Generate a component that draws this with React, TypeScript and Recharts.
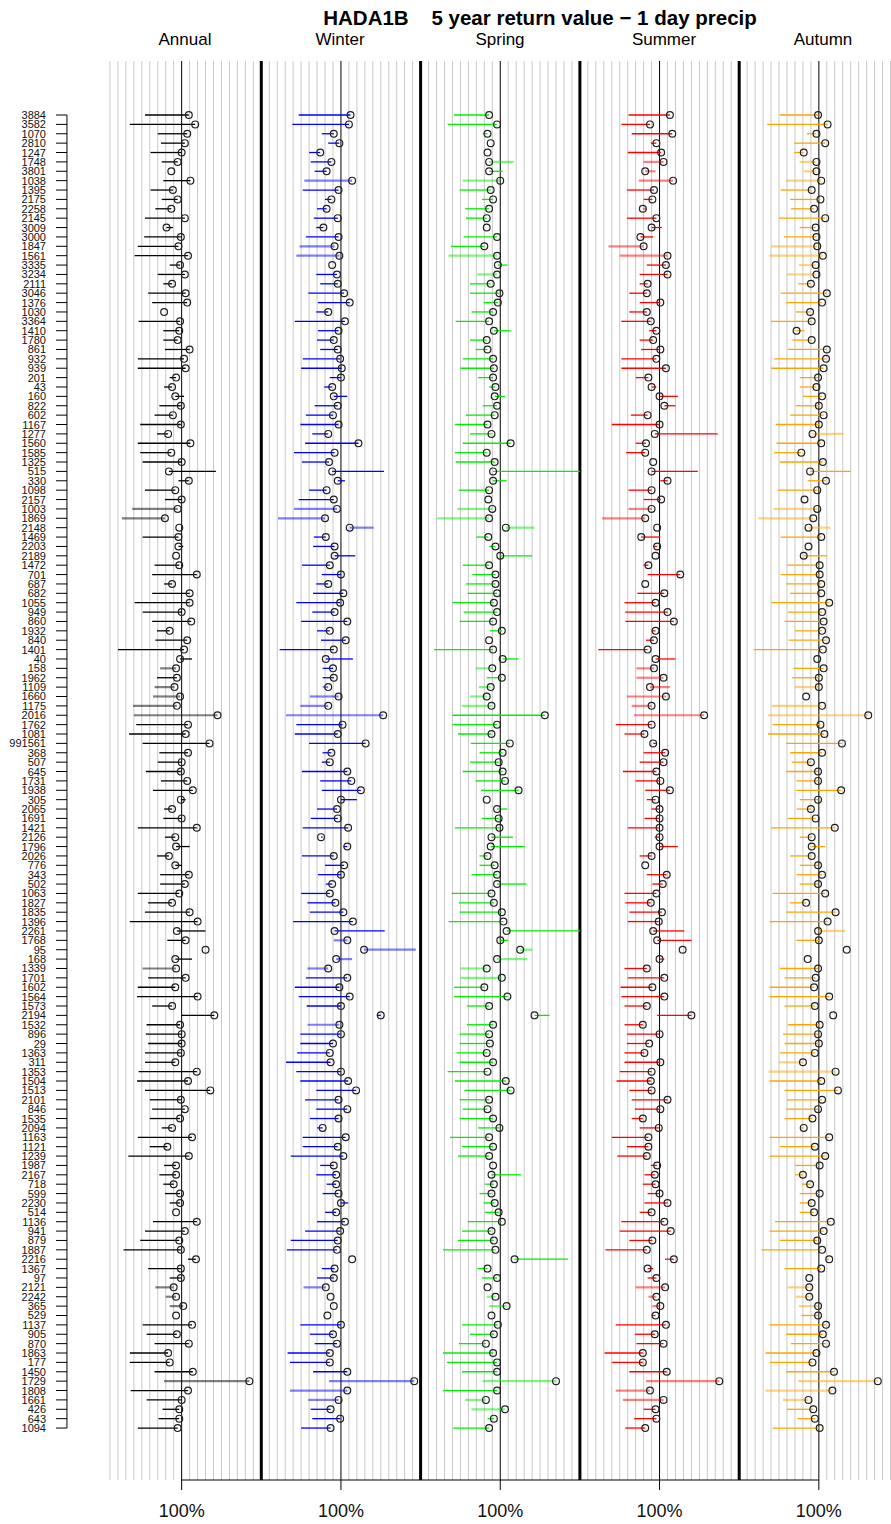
import React from 'react';
import { ComposedChart, Scatter, ErrorBar, XAxis, YAxis, ReferenceLine, Customized } from 'recharts';

const TITLE = 'HADA1B    5 year return value \u2212 1 day precip';
const PANEL_NAMES = ['Annual', 'Winter', 'Spring', 'Summer', 'Autumn'];
const X_TICK_LABEL = '100%';

const stations = [
  '3884','3582','1070','2810','1247','1748','3801','1038','1395','2175',
  '2258','2145','3009','3000','1847','1561','3335','3234','2111','3046',
  '1376','1030','3364','1410','1780','861','932','939','201','43',
  '160','822','602','1167','1277','1560','1585','1325','515','330',
  '1098','2157','1003','1869','2148','1469','2203','2189','1472','701',
  '687','682','1055','949','860','1932','840','1401','40','158',
  '1962','1109','1660','1175','2016','1762','1081','991561','368','507',
  '645','1731','1938','305','2065','1691','1421','2126','1796','2026',
  '776','343','502','1063','1827','1835','1396','2261','1768','95',
  '168','1339','1701','1602','1564','1573','2194','1532','896','29',
  '1363','311','1353','1504','1513','2101','846','1535','2094','1163',
  '1121','1239','1987','2167','718','599','2230','514','1136','941',
  '879','1887','2216','1367','97','2121','2242','365','529','1137',
  '905','870','1863','177','1450','1729','1808','1661','426','643',
  '1094'
];

// values in percent (circle = point, line runs from point to end)
const annualPoint = [
  109,117,107,104,100,95,87,111,89,95, 87,104,81,99,96,108,98,104,88,105,
  107,78,98,97,95,110,103,105,93,88, 92,99,89,99,83,111,87,100,84,109,
  92,100,95,79,97,96,96,93,97,119, 88,110,110,100,112,85,107,103,98,93,
  94,91,98,94,145,108,105,135,108,100, 99,107,114,99,88,100,119,92,93,84,
  92,109,104,97,88,110,120,94,105,130, 92,93,105,92,120,88,141,98,100,100,
  99,92,119,108,136,99,104,98,88,113, 82,109,93,93,90,98,98,93,119,104,
  97,99,118,99,99,90,93,102,93,113, 94,109,83,85,114,185,108,100,97,97,
  95
];
const annualEnd = [
  54,35,70,74,61,75,87,77,61,75, 67,54,89,53,45,41,85,70,77,58,
  63,78,46,77,77,79,45,45,85,78, 103,72,66,48,69,45,48,51,143,96,
  54,79,38,25,97,51,102,93,66,63, 78,63,41,51,63,69,67,20,113,73,
  69,66,64,39,40,43,34,51,72,70, 55,74,64,105,78,77,45,79,110,69,
  100,73,73,45,58,54,35,130,82,130, 113,51,58,45,44,63,100,56,55,58,
  54,54,46,44,54,60,63,60,75,45, 60,33,78,72,77,79,85,93,64,54,
  48,27,108,58,85,67,80,85,93,51, 56,66,35,35,66,78,36,56,76,71,
  45
];
const winterPoint = [
  112,110,91,98,74,88,82,114,97,88, 82,96,78,97,92,98,89,95,96,104,
  111,84,105,97,91,96,99,101,100,89, 91,96,90,97,84,122,92,85,89,96,
  82,91,95,80,111,81,92,92,86,100, 84,103,99,92,108,86,106,91,81,90,
  91,84,97,84,153,102,96,131,88,86, 108,113,125,100,95,96,109,75,108,91,
  104,100,89,86,93,103,115,92,108,129, 94,84,108,98,111,100,150,98,100,90,
  86,87,100,109,119,97,108,97,77,106, 96,103,91,94,94,97,100,94,105,99,
  96,95,114,92,91,81,87,91,83,100, 90,95,86,86,108,192,108,97,87,99,
  87
];
const winterEnd = [
  47,39,76,84,60,62,67,54,52,80, 70,66,69,56,48,44,89,69,74,59,
  71,69,42,71,70,74,52,50,86,79, 108,67,56,49,64,55,41,51,154,105,
  60,47,41,21,141,66,65,118,51,76, 69,65,44,64,50,70,75,23,115,77,
  77,77,61,49,31,44,42,60,77,76, 51,74,76,120,70,62,52,77,103,51,
  80,71,81,50,58,61,40,155,91,194, 114,58,56,42,47,57,145,58,49,49,
  45,31,44,49,69,55,69,61,70,52, 52,37,74,69,82,77,109,80,70,55,
  37,32,114,76,70,53,87,91,83,49, 61,67,33,36,65,85,36,59,62,64,
  50
];
const springPoint = [
  86,96,84,88,84,86,86,100,88,91, 86,83,83,96,80,96,97,96,88,99,
  97,91,86,92,83,84,91,92,91,94, 93,96,93,84,89,113,83,93,91,91,
  86,85,90,86,107,85,94,100,86,94, 94,96,92,96,91,102,86,91,103,90,
  102,88,83,89,156,96,89,112,103,98, 103,106,123,83,96,98,99,89,88,84,
  93,96,96,89,92,102,104,108,100,125, 96,83,102,80,109,86,143,91,86,87,
  83,91,84,107,113,86,84,91,99,86, 91,86,91,89,92,89,93,98,102,89,
  92,94,118,84,96,84,94,108,89,97, 92,82,91,96,96,170,96,82,106,92,
  86
];
const springEnd = [
  42,34,78,88,84,117,103,53,49,77, 56,57,83,54,38,35,109,71,62,62,
  79,64,44,113,62,69,53,50,72,86, 106,78,57,43,62,53,43,44,200,108,
  48,85,46,21,143,70,86,140,53,65, 57,59,40,54,49,87,86,17,123,69,
  83,73,62,52,40,40,47,63,74,62, 53,69,76,83,109,77,43,116,131,74,
  74,64,133,39,48,49,35,200,110,140, 134,50,50,42,42,58,162,58,49,49,
  45,49,34,43,55,49,53,49,72,37, 52,47,91,126,81,74,79,81,59,52,
  47,28,185,71,77,84,83,86,89,52, 62,48,28,33,52,78,28,56,64,84,
  41
];
const summerPoint = [
  113,88,116,96,102,105,82,117,93,91, 79,96,90,76,80,110,108,110,85,84,
  101,84,89,96,92,101,96,108,86,90, 100,106,85,100,94,83,82,92,90,110,
  90,102,90,82,97,77,97,95,86,126, 82,106,95,110,118,95,93,85,95,93,
  105,88,108,90,156,90,81,92,107,105, 96,101,113,95,100,100,100,100,100,90,
  82,109,104,96,89,103,99,92,97,129, 100,84,106,91,106,84,140,79,100,87,
  81,101,90,89,90,110,101,79,99,86, 86,84,97,94,95,100,110,90,106,114,
  91,84,118,85,96,107,96,101,95,108, 94,105,79,79,109,175,88,105,95,96,
  82
];
const summerEnd = [
  61,52,65,89,60,80,95,74,59,80, 84,59,103,92,36,50,84,75,75,62,
  75,62,52,87,75,77,52,52,70,96, 123,120,64,40,173,70,58,92,148,101,
  61,80,61,28,97,101,92,95,80,85, 82,72,56,57,57,90,83,23,120,71,
  71,113,59,65,68,45,56,96,80,75, 54,70,82,84,90,81,60,94,123,75,
  82,84,91,56,57,62,60,131,140,129, 106,56,60,51,52,56,97,56,59,59,
  56,56,50,46,62,65,69,65,75,40, 59,47,89,81,79,85,81,75,52,50,
  62,32,107,92,85,70,86,91,90,45, 69,71,31,40,62,83,45,54,80,68,
  57
];
const autumnPoint = [
  99,111,97,108,81,97,97,103,91,102, 94,108,96,97,98,105,96,97,90,110,
  104,89,91,72,91,110,109,106,99,97, 104,100,106,100,92,103,78,105,89,109,
  98,82,98,93,87,103,87,81,101,101, 103,103,113,104,106,104,109,105,98,106,
  100,100,84,104,162,102,107,129,104,90, 99,99,128,99,90,96,120,91,91,91,
  99,104,99,108,84,121,111,99,100,135, 86,99,96,94,113,95,118,101,99,100,
  95,80,121,103,124,104,99,92,81,113, 95,108,101,80,89,101,91,94,115,106,
  98,104,113,103,88,88,88,99,99,109, 105,109,97,92,119,174,117,87,93,95,
  101
];
const autumnEnd = [
  51,35,85,69,69,76,81,59,52,64, 65,50,76,56,40,38,75,60,74,52,
  59,71,40,82,67,61,44,40,76,76, 80,71,64,46,131,47,44,51,140,86,
  48,82,43,24,114,52,87,110,60,52, 59,64,40,61,57,70,62,18,98,68,
  66,70,84,41,36,42,36,59,64,66, 59,72,71,76,72,61,40,76,108,64,
  76,72,76,42,64,59,38,133,72,135, 86,51,57,38,38,57,118,61,55,57,
  51,50,37,38,57,60,59,57,76,38, 51,38,70,70,79,76,76,76,45,38,
  51,28,109,57,88,61,71,75,78,38, 59,65,33,38,59,74,33,55,60,73,
  42
];

// rows whose line is drawn pale
const annualFaded = [42,43,59,61,62,63,64,91,125,126,127,135];
const winterFaded = [7,14,15,42,43,44,61,62,63,64,88,89,90,91,97,125,135,136,137];
const springFaded = [5,7,15,17,42,43,44,59,61,62,63,89,90,91,92,125,126,127,135,137,138];
const summerFaded = [5,6,7,10,14,15,42,43,59,60,61,62,63,64,125,126,127,135,136,137];
const autumnFaded = [5,6,7,14,15,16,17,34,42,43,44,61,63,64,87,101,102,125,126,127,135,136,137];

const panels = [
  { point: annualPoint, end: annualEnd, faded: annualFaded, color: '#000000', pale: 'rgba(0,0,0,0.5)' },
  { point: winterPoint, end: winterEnd, faded: winterFaded, color: '#0000ff', pale: 'rgba(0,0,255,0.5)' },
  { point: springPoint, end: springEnd, faded: springFaded, color: '#00ee00', pale: 'rgba(0,238,0,0.5)' },
  { point: summerPoint, end: summerEnd, faded: summerFaded, color: '#ff0000', pale: 'rgba(255,0,0,0.5)' },
  { point: autumnPoint, end: autumnEnd, faded: autumnFaded, color: '#ffa500', pale: 'rgba(255,165,0,0.5)' },
];

const PANEL_SPAN = 200;
const Y_MIN = -5.758;
const Y_MAX = 145.54;
const rowIdx = stations.map((_, i) => i);

function lineData(p: any, k: number, pale: boolean) {
  const set = new Set<number>(p.faded);
  return rowIdx
    .filter((i) => set.has(i) === pale && p.end[i] !== p.point[i])
    .map((i) => {
      const pt = p.point[i];
      const e = p.end[i];
      return {
        x: k * PANEL_SPAN + pt,
        y: i,
        err: e < pt ? [pt - e, 0] : [0, e - pt],
      };
    });
}
function pointData(p: any, k: number) {
  return rowIdx.map((i) => ({ x: k * PANEL_SPAN + p.point[i], y: i }));
}

const gridValues: number[] = [];
for (let k = 0; k < 5; k++) {
  for (let j = 1; j < 20; j++) {
    if (j !== 10) gridValues.push(k * PANEL_SPAN + j * 10);
  }
}
const centerValues = [100, 300, 500, 700, 900];
const separatorValues = [200, 400, 600, 800];

const FONT = '"Liberation Sans", Arial, sans-serif';
const X_LABEL_BASELINE = 1517;

const StationTick = (props: any) => {
  const { x, y, payload } = props;
  return (
    <g>
      <line x1={x - 46} x2={x - 35} y1={y} y2={y} stroke="#000" strokeWidth={1} />
      <text x={x - 56} y={y} dy={4} textAnchor="end" fontSize={11} fontFamily={FONT} fill="#111">
        {stations[payload.value]}
      </text>
    </g>
  );
};

const PctTick = (props: any) => {
  const { x } = props;
  return (
    <text x={x} y={X_LABEL_BASELINE} textAnchor="middle" fontSize={18} fontFamily={FONT} fill="#111">
      {X_TICK_LABEL}
    </text>
  );
};

const TitleX = [185, 340, 500, 664, 823];

const Titles = () => (
  <g>
    <text x={540} y={25} textAnchor="middle" fontFamily={FONT} fontWeight="bold" fontSize={20.5} fill="#000" style={{ whiteSpace: 'pre' }}>
      {TITLE}
    </text>
    {PANEL_NAMES.map((n, i) => (
      <text key={n} x={TitleX[i]} y={45} textAnchor="middle" fontFamily={FONT} fontSize={17} fill="#000">
        {n}
      </text>
    ))}
  </g>
);

const noShape = () => <g />;
const circleShape = (props: any) => (
  <circle cx={props.cx} cy={props.cy} r={3.4} fill="none" stroke="#222" strokeWidth={1.2} />
);

export default function App() {
  return (
    <div style={{ position: 'absolute', left: 0, top: 0, width: 891, height: 1524, overflow: 'hidden', background: '#fff' }}>
      <ComposedChart width={900} height={1524} margin={{ top: 61, right: 1.5, bottom: 0, left: 0 }}>
        <XAxis
          type="number"
          dataKey="x"
          domain={[0, 1000]}
          allowDataOverflow
          ticks={centerValues}
          interval={0}
          axisLine={false}
          tickLine={{ stroke: '#000' }}
          tickSize={10}
          tickMargin={0}
          height={44}
          tick={(p: any) => <PctTick {...p} />}
        />
        <YAxis
          type="number"
          dataKey="y"
          domain={[Y_MIN, Y_MAX]}
          reversed
          allowDataOverflow
          ticks={rowIdx}
          interval={0}
          width={102}
          axisLine={false}
          tickLine={false}
          tickSize={0}
          tickMargin={0}
          tick={(p: any) => <StationTick {...p} />}
        />
        {gridValues.map((v) => (
          <ReferenceLine key={'g' + v} x={v} stroke="#c8c8c8" strokeWidth={1} />
        ))}
        {centerValues.map((v) => (
          <ReferenceLine key={'c' + v} x={v} stroke="#000" strokeWidth={1} />
        ))}
        {separatorValues.map((v) => (
          <ReferenceLine key={'s' + v} x={v} stroke="#000" strokeWidth={3} />
        ))}
        <ReferenceLine
          segment={[{ x: 100, y: Y_MAX }, { x: 900, y: Y_MAX }]}
          stroke="#000"
          strokeWidth={1}
          ifOverflow="visible"
        />
        <ReferenceLine
          segment={[{ x: -44, y: 0 }, { x: -44, y: stations.length - 1 }]}
          stroke="#000"
          strokeWidth={1}
          ifOverflow="visible"
        />
        {panels.map((p, k) => (
          <Scatter key={'pale' + k} data={lineData(p, k, true)} shape={noShape} isAnimationActive={false}>
            <ErrorBar dataKey="err" direction="x" width={0} stroke={p.pale} strokeWidth={2.2} isAnimationActive={false} />
          </Scatter>
        ))}
        {panels.map((p, k) => (
          <Scatter key={'solid' + k} data={lineData(p, k, false)} shape={noShape} isAnimationActive={false}>
            <ErrorBar dataKey="err" direction="x" width={0} stroke={p.color} strokeWidth={1.3} isAnimationActive={false} />
          </Scatter>
        ))}
        {panels.map((p, k) => (
          <Scatter key={'pt' + k} data={pointData(p, k)} shape={circleShape} isAnimationActive={false} />
        ))}
        <Customized component={<Titles />} />
      </ComposedChart>
    </div>
  );
}
